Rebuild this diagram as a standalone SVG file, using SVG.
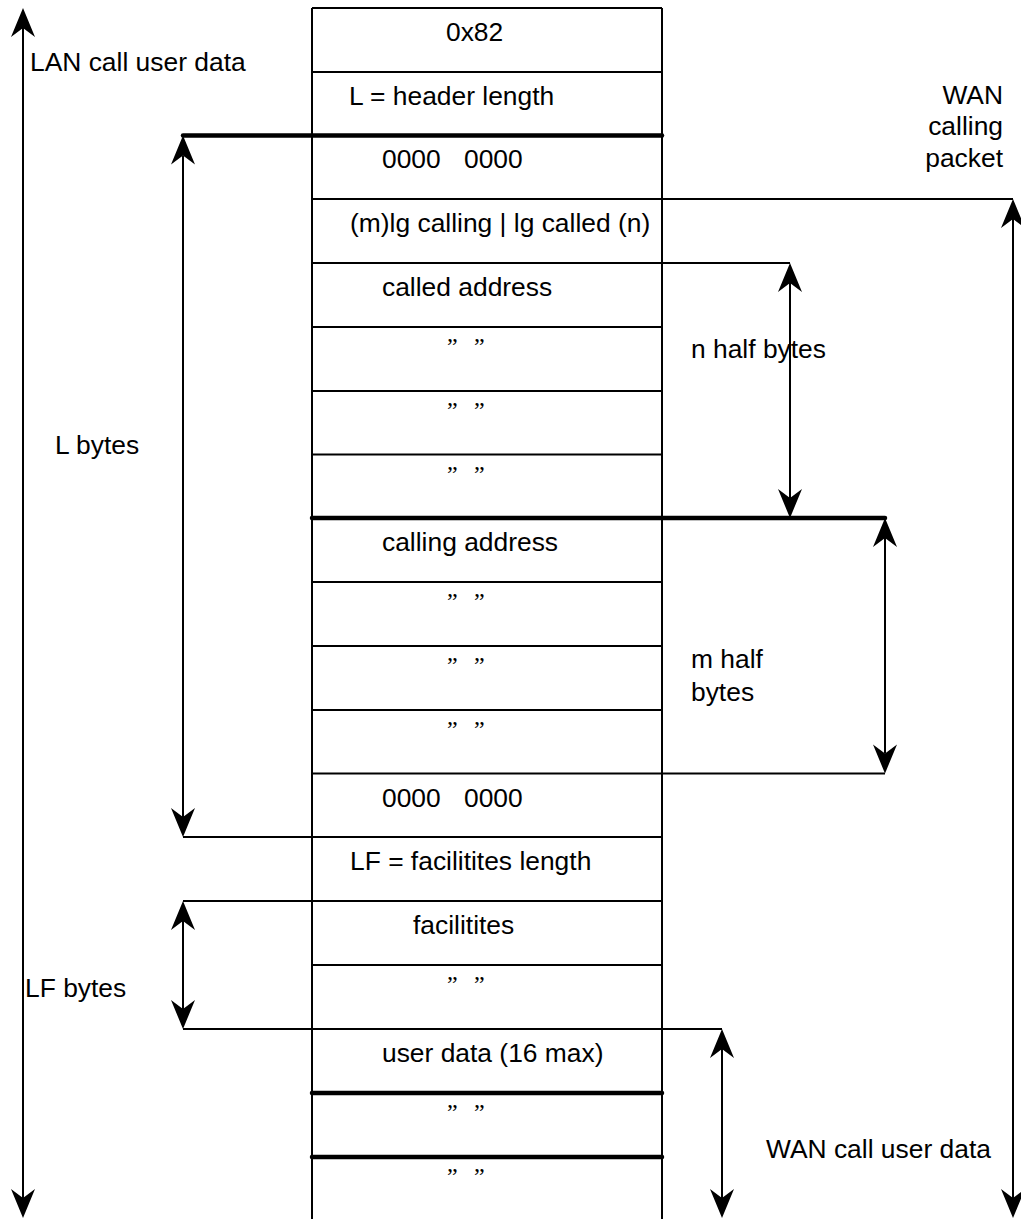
<svg xmlns="http://www.w3.org/2000/svg" width="1021" height="1219" viewBox="0 0 1021 1219">
  <style>
    .lbl { font-family: "Liberation Sans", Arial, sans-serif; font-size: 26.4px; fill: #000; }
    .dit { font-family: "Liberation Serif", "Times New Roman", serif; font-size: 24px; fill: #000; }
    .sep { stroke: #000; stroke-width: 2; fill: none; }
    .thick { stroke: #000; stroke-width: 4.5; fill: none; stroke-linecap: round; }
    .dim { stroke: #000; stroke-width: 2; fill: none; }
    .arr { stroke: #000; stroke-width: 2; fill: none; marker-start: url(#head); marker-end: url(#head); }
  </style>
  <defs>
    <!-- barbed arrowhead; origin sits at the notch where the shaft ends -->
    <marker id="head" markerUnits="userSpaceOnUse" markerWidth="40" markerHeight="40" refX="0" refY="0" orient="auto-start-reverse" overflow="visible">
      <path d="M20,0 L-9,-12 L0,0 L-9,12 Z" fill="#000"/>
    </marker>
  </defs>
  <rect width="1021" height="1219" fill="#fff"/>

  <!-- packet frame -->
  <g id="frame">
    <path class="sep" d="M312,8 H662 M312,8 V1225 M662,8 V1225"/>
  </g>

  <!-- packet fields, one row per byte -->
  <g id="row-0x82">
    <text class="lbl" x="446" y="41">0x82</text>
  </g>
  <g id="row-header-length">
    <path class="sep" d="M312,72 H662"/>
    <text class="lbl" x="349" y="105">L = header length</text>
  </g>
  <g id="row-zero-1">
    <text class="lbl" y="168"><tspan x="382">0000</tspan><tspan x="464">0000</tspan></text>
  </g>
  <g id="row-lengths">
    <text class="lbl" x="350" y="232">(m)lg calling | lg called (n)</text>
  </g>
  <g id="row-called-address">
    <text class="lbl" x="382" y="296">called address</text>
  </g>
  <g id="row-called-2">
    <path class="sep" d="M312,327 H662"/>
    <text class="dit" y="354"><tspan x="447">”</tspan><tspan x="474">”</tspan></text>
  </g>
  <g id="row-called-3">
    <path class="sep" d="M312,391 H662"/>
    <text class="dit" y="418"><tspan x="447">”</tspan><tspan x="474">”</tspan></text>
  </g>
  <g id="row-called-4">
    <path class="sep" d="M312,454.5 H662"/>
    <text class="dit" y="481.5"><tspan x="447">”</tspan><tspan x="474">”</tspan></text>
  </g>
  <g id="row-calling-address">
    <text class="lbl" x="382" y="551">calling address</text>
  </g>
  <g id="row-calling-2">
    <path class="sep" d="M312,582 H662"/>
    <text class="dit" y="609"><tspan x="447">”</tspan><tspan x="474">”</tspan></text>
  </g>
  <g id="row-calling-3">
    <path class="sep" d="M312,646 H662"/>
    <text class="dit" y="673"><tspan x="447">”</tspan><tspan x="474">”</tspan></text>
  </g>
  <g id="row-calling-4">
    <path class="sep" d="M312,710 H662"/>
    <text class="dit" y="737"><tspan x="447">”</tspan><tspan x="474">”</tspan></text>
  </g>
  <g id="row-zero-2">
    <text class="lbl" y="807"><tspan x="382">0000</tspan><tspan x="464">0000</tspan></text>
  </g>
  <g id="row-facilities-length">
    <text class="lbl" x="350" y="870">LF = facilitites length</text>
  </g>
  <g id="row-facilities">
    <text class="lbl" x="413" y="934">facilitites</text>
  </g>
  <g id="row-facilities-2">
    <path class="sep" d="M312,965 H662"/>
    <text class="dit" y="992"><tspan x="447">”</tspan><tspan x="474">”</tspan></text>
  </g>
  <g id="row-user-data">
    <text class="lbl" x="382" y="1062">user data (16 max)</text>
  </g>
  <g id="row-user-data-2">
    <path class="thick" d="M312,1093 H662"/>
    <text class="dit" y="1120"><tspan x="447">”</tspan><tspan x="474">”</tspan></text>
  </g>
  <g id="row-user-data-3">
    <path class="thick" d="M312,1157 H662"/>
    <text class="dit" y="1184"><tspan x="447">”</tspan><tspan x="474">”</tspan></text>
  </g>

  <!-- extent markers and their leader lines -->
  <g id="connectors">
    <!-- LAN call user data -->
    <path class="arr" d="M23,28 V1198"/>
    <!-- WAN calling packet -->
    <path class="dim" d="M312,199 H1013"/>
    <path class="arr" d="M1013,219 V1198"/>
    <!-- L bytes -->
    <path class="thick" d="M183,135.5 H662"/>
    <path class="arr" d="M183,155.5 V817"/>
    <path class="dim" d="M183,837 H662"/>
    <!-- n half bytes -->
    <path class="dim" d="M312,263 H790"/>
    <path class="arr" d="M790,283 V498"/>
    <!-- m half bytes -->
    <path class="thick" d="M312,518 H885"/>
    <path class="arr" d="M885,538 V753.5"/>
    <path class="dim" d="M312,773.5 H885"/>
    <!-- LF bytes -->
    <path class="dim" d="M183,901 H662"/>
    <path class="arr" d="M183,921 V1009"/>
    <path class="dim" d="M183,1029 H722"/>
    <!-- WAN call user data -->
    <path class="arr" d="M722,1049 V1198"/>
  </g>

  <!-- extent labels -->
  <g id="labels">
    <text class="lbl" x="30" y="71">LAN call user data</text>
    <text class="lbl" x="1003" y="104" text-anchor="end">WAN</text>
    <text class="lbl" x="1003" y="135" text-anchor="end">calling</text>
    <text class="lbl" x="1003" y="167" text-anchor="end">packet</text>
    <text class="lbl" x="691" y="358">n half bytes</text>
    <text class="lbl" x="55" y="454">L bytes</text>
    <text class="lbl" x="691" y="668">m half</text>
    <text class="lbl" x="691" y="701">bytes</text>
    <text class="lbl" x="25" y="997">LF bytes</text>
    <text class="lbl" x="766" y="1158">WAN call user data</text>
  </g>
</svg>
